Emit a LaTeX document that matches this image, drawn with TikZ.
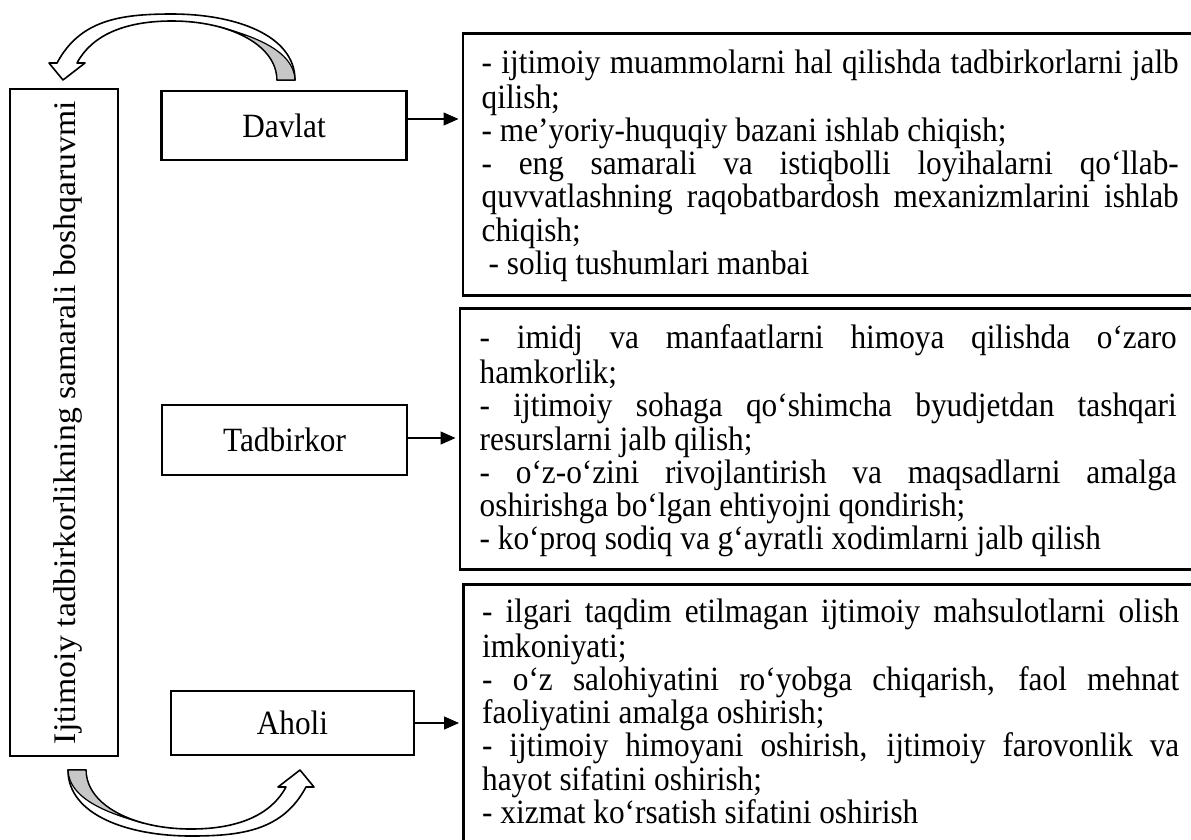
\documentclass[tikz,border=0pt]{standalone}
\usepackage{fontspec}
\setmainfont[FakeStretch=0.92]{Liberation Serif}
\newfontfamily\sidefont[FakeStretch=1.07]{Liberation Serif}
\usetikzlibrary{arrows.meta}

% Curved ribbon arrow: tail on the right, head on the left pointing down
\newcommand\ribbonarrow{%
  \path[rib] (57,63) .. controls (80,20) and (120,14) .. (172,14)
        .. controls (235,14) and (295,35) .. (295,80)
        -- (277,80) .. controls (277,45) and (230,21) .. (172,21)
        .. controls (125,21) and (92,35) .. (77,63)
        -- (85,63) -- (63,80) -- (49,63) -- cycle;
  % shaded underside of the ribbon near its tail
  \path[ribshade] (277,80) .. controls (277,55.5) and (254.07,36.39) .. (220.29,27.03)
        .. controls (252,36) and (294,50) .. (295,80) -- cycle;
}

\begin{document}
\begin{tikzpicture}[x=1pt,y=-1pt,
  every node/.style={font=\fontsize{34}{33.3}\selectfont},
  frame/.style={draw, line width=2.5pt, inner sep=0pt},
  sidebox/.style={frame, minimum width=245pt},
  listbox/.style={frame, anchor=north west, minimum width=760pt},
  listtext/.style={anchor=north west, inner sep=0pt, text width=697pt, align=justify},
  conn/.style={line width=1.3pt, -{Triangle[length=15pt,width=13pt]}, shorten >=3pt},
  rib/.style={draw, line width=1.6pt, fill=white, line join=round},
  ribshade/.style={draw, line width=1.2pt, fill=black!22, line join=round},
]
\useasboundingbox (0,0) rectangle (1191,839);
\clip (0,0) rectangle (1191,839);

% vertical title box and its rotated caption
\node[frame, minimum width=108pt, minimum height=667pt] (main) at (64,422.5) {};
\node[rotate=90, inner sep=0pt, font=\sidefont\fontsize{31.5}{33}\selectfont]
  (maintext) at ([xshift=4pt]main.center) {Ijtimoiy tadbirkorlikning samarali boshqaruvmi};

% actors
\node[sidebox, minimum height=69pt] (davlat) at (284,125.5) {Davlat};
\node[sidebox, minimum height=70pt] (tadb) at (284.5,440) {Tadbirkor};
\node[sidebox, minimum width=243pt, minimum height=64pt] (aholi) at (292.5,723) {Aholi};

% list frames
\node[listbox, minimum height=262pt] (b1) at (461.5,32) {};
\node[listbox, minimum height=261pt] (b2) at (458.5,307) {};
\node[listbox, minimum height=300pt] (b3) at (462,583) {};

% list texts
\node[listtext] (t1) at ([xshift=20pt,yshift=-17.7pt]b1.north west)
{\parindent0pt\parskip0pt\strut- ijtimoiy muammolarni hal qilishda tadbirkorlarni jalb qilish;\par
- me’yoriy-huquqiy bazani ishlab chiqish;\par
- eng samarali va istiqbolli loyihalarni qo‘llab-\linebreak quvvatlashning raqobatbardosh mexanizmlarini ishlab\linebreak chiqish;\par
\hspace*{7pt}- soliq tushumlari manbai};

\node[listtext] (t2) at ([xshift=21pt,yshift=-17.7pt]b2.north west)
{\parindent0pt\parskip0pt\strut- imidj va manfaatlarni himoya qilishda o‘zaro\linebreak hamkorlik;\par
- ijtimoiy sohaga qo‘shimcha byudjetdan tashqari\linebreak resurslarni jalb qilish;\par
- o‘z-o‘zini rivojlantirish va maqsadlarni amalga\linebreak oshirishga bo‘lgan ehtiyojni qondirish;\par
- ko‘proq sodiq va g‘ayratli xodimlarni jalb qilish};

\node[listtext] (t3) at ([xshift=20pt,yshift=-15.7pt]b3.north west)
{\parindent0pt\parskip0pt\strut- ilgari taqdim etilmagan ijtimoiy mahsulotlarni olish\linebreak imkoniyati;\par
- o‘z salohiyatini ro‘yobga chiqarish, faol mehnat\linebreak faoliyatini amalga oshirish;\par
- ijtimoiy himoyani oshirish, ijtimoiy farovonlik va\linebreak hayot sifatini oshirish;\par
- xizmat ko‘rsatish sifatini oshirish};

% connectors
\draw[conn] ([yshift=6.5pt]davlat.east) -- ([yshift=6.5pt]davlat.east -| b1.west);
\draw[conn] ([yshift=2pt]tadb.east) -- ([yshift=2pt]tadb.east -| b2.west);
\draw[conn] (aholi.east) -- (aholi.east -| b3.west);

% curved ribbon arrows above and below the title box
\begin{scope}
  \ribbonarrow
\end{scope}
\begin{scope}[shift={(363,850)}, xscale=-1, yscale=-1]
  \ribbonarrow
\end{scope}
\end{tikzpicture}
\end{document}
